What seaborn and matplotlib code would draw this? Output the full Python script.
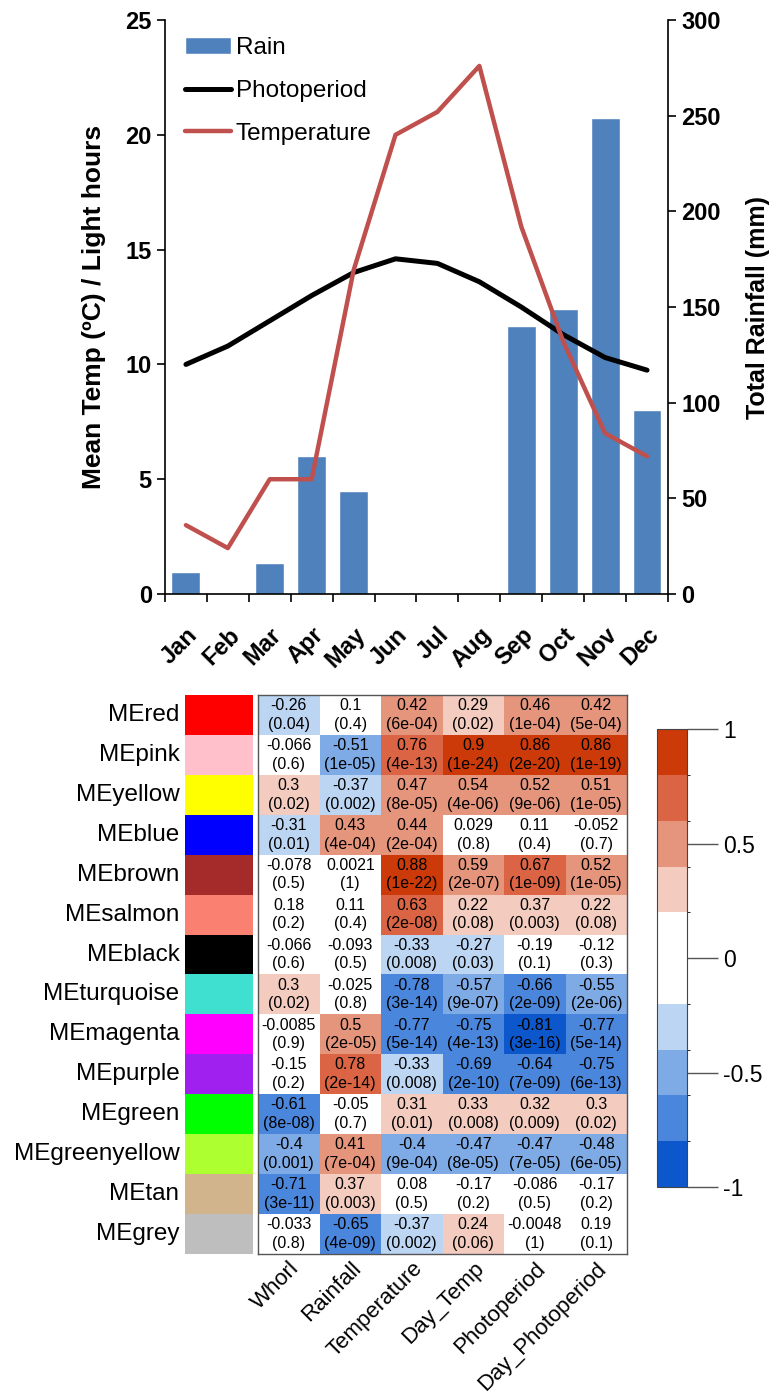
"""Climate profile + module-trait correlation heatmap"""
import numpy as np
import pandas as pd
import matplotlib
matplotlib.use("Agg")
import matplotlib.pyplot as plt
from matplotlib.colors import ListedColormap, BoundaryNorm
from matplotlib.ticker import FuncFormatter
import seaborn as sns

# --- climate data ---
months = ["Jan", "Feb", "Mar", "Apr", "May", "Jun",
          "Jul", "Aug", "Sep", "Oct", "Nov", "Dec"]
rain_mm = [11.4, 0.6, 16, 72, 54, 0, 0.3, 0.3, 140, 149, 249, 96]
photoperiod_h = [10.0, 10.8, 11.9, 13.0, 14.0, 14.6, 14.4, 13.6, 12.5, 11.3, 10.3, 9.75]
temperature_c = [3.0, 2.0, 5.0, 5.0, 14.1, 20.0, 21.0, 23.0, 16.0, 11.0, 7.0, 6.0]

# --- module / trait correlations ---
modules = ["MEred", "MEpink", "MEyellow", "MEblue", "MEbrown", "MEsalmon", "MEblack",
           "MEturquoise", "MEmagenta", "MEpurple", "MEgreen", "MEgreenyellow", "MEtan", "MEgrey"]
module_colors = ["#FF0000", "#FFC0CB", "#FFFF00", "#0000FF", "#A52A2A", "#FA8072", "#000000",
                 "#40E0D0", "#FF00FF", "#A020F0", "#00FF00", "#ADFF2F", "#D2B48C", "#BEBEBE"]
traits = ["Whorl", "Rainfall", "Temperature", "Day_Temp", "Photoperiod", "Day_Photoperiod"]

cor_whorl = [-0.26, -0.066, 0.3, -0.31, -0.078, 0.18, -0.066, 0.3, -0.0085, -0.15, -0.61, -0.4, -0.71, -0.033]
p_whorl = ["0.04", "0.6", "0.02", "0.01", "0.5", "0.2", "0.6", "0.02", "0.9", "0.2", "8e-08", "0.001", "3e-11", "0.8"]
cor_rain = [0.1, -0.51, -0.37, 0.43, 0.0021, 0.11, -0.093, -0.025, 0.5, 0.78, -0.05, 0.41, 0.37, -0.65]
p_rain = ["0.4", "1e-05", "0.002", "4e-04", "1", "0.4", "0.5", "0.8", "2e-05", "2e-14", "0.7", "7e-04", "0.003", "4e-09"]
cor_temp = [0.42, 0.76, 0.47, 0.44, 0.88, 0.63, -0.33, -0.78, -0.77, -0.33, 0.31, -0.4, 0.08, -0.37]
p_temp = ["6e-04", "4e-13", "8e-05", "2e-04", "1e-22", "2e-08", "0.008", "3e-14", "5e-14", "0.008", "0.01", "9e-04", "0.5", "0.002"]
cor_daytemp = [0.29, 0.9, 0.54, 0.029, 0.59, 0.22, -0.27, -0.57, -0.75, -0.69, 0.33, -0.47, -0.17, 0.24]
p_daytemp = ["0.02", "1e-24", "4e-06", "0.8", "2e-07", "0.08", "0.03", "9e-07", "4e-13", "2e-10", "0.008", "8e-05", "0.2", "0.06"]
cor_photo = [0.46, 0.86, 0.52, 0.11, 0.67, 0.37, -0.19, -0.66, -0.81, -0.64, 0.32, -0.47, -0.086, -0.0048]
p_photo = ["1e-04", "2e-20", "9e-06", "0.4", "1e-09", "0.003", "0.1", "2e-09", "3e-16", "7e-09", "0.009", "7e-05", "0.5", "1"]
cor_dayphoto = [0.42, 0.86, 0.51, -0.052, 0.52, 0.22, -0.12, -0.55, -0.77, -0.75, 0.3, -0.48, -0.17, 0.19]
p_dayphoto = ["5e-04", "1e-19", "1e-05", "0.7", "1e-05", "0.08", "0.3", "2e-06", "5e-14", "6e-13", "0.02", "6e-05", "0.2", "0.1"]

cmap_colors = ["#0D57CC", "#4A86DC", "#7EAAE6", "#BCD5F2", "#FFFFFF",
               "#FFFFFF", "#F3CCBF", "#E6957D", "#DA6444", "#CC3A0A"]
cbar_ticks = [-1, -0.5, 0, 0.5, 1]

sns.set_style("ticks")
plt.rcParams["font.family"] = ["Liberation Sans", "DejaVu Sans"]
plt.rcParams.update({"axes.edgecolor": "black", "text.color": "black",
                     "axes.labelcolor": "black", "xtick.color": "black",
                     "ytick.color": "black"})

fig = plt.figure(figsize=(7.8, 14), dpi=100)

# ---------------- top: climate chart ----------------
clim = pd.DataFrame({"Month": months, "Rain": rain_mm,
                     "Photoperiod": photoperiod_h, "Temperature": temperature_c})

ax = fig.add_axes([0.2115, 0.5757, 0.6449, 0.41])
ax2 = ax.twinx()
sns.barplot(data=clim, x="Month", y="Rain", ax=ax2, color="#4F81BD",
            saturation=1, width=0.69, label="Rain")
sns.lineplot(data=clim, x="Month", y="Photoperiod", ax=ax, color="black",
             lw=3.6, sort=False, label="Photoperiod")
sns.lineplot(data=clim, x="Month", y="Temperature", ax=ax, color="#C0504D",
             lw=3.2, sort=False, label="Temperature")

ax.set_zorder(ax2.get_zorder() + 1)
ax.patch.set_visible(False)

ax.set_ylim(0, 25)
ax.set_yticks(range(0, 26, 5))
ax2.set_ylim(0, 300)
ax2.set_yticks(range(0, 301, 50))
ax.set_xlim(-0.5, 11.5)
ax.set_xticks(np.arange(-0.5, 12, 1))
ax.set_xticklabels([])
ax.set_xticks(np.arange(12), minor=True)
ax.set_xticklabels(months, minor=True, rotation=45, ha="right",
                   rotation_mode="anchor", fontsize=17, fontweight="bold")
ax.tick_params(axis="x", which="minor", length=0, pad=21)
ax.tick_params(axis="x", which="major", length=6, width=1.2)
ax.tick_params(axis="y", length=6, width=1.2, labelsize=17)
ax2.tick_params(axis="y", length=6, width=1.2, labelsize=17)
for t in ax.get_yticklabels() + ax2.get_yticklabels():
    t.set_fontweight("bold")

for a in (ax, ax2):
    a.spines["top"].set_visible(False)
    a.set_xlabel("")
ax.spines["right"].set_visible(False)
ax2.spines["left"].set_visible(False)
ax2.spines["bottom"].set_visible(False)
for s in ("left", "bottom"):
    ax.spines[s].set_linewidth(1.2)
ax2.spines["right"].set_linewidth(1.2)

ax.set_ylabel("Mean Temp (ºC) / Light hours", fontsize=19, fontweight="bold", labelpad=14)
ax2.set_ylabel("Total Rainfall (mm)", fontsize=18, fontweight="bold", labelpad=18)

if ax2.get_legend() is not None:
    ax2.get_legend().remove()
h1, l1 = ax.get_legend_handles_labels()
h2, l2 = ax2.get_legend_handles_labels()
ax.legend(h2 + h1, l2 + l1, loc="upper left", frameon=False, fontsize=17.5,
          handlelength=1.9, handletextpad=0.2, labelspacing=0.85,
          borderaxespad=0.2, bbox_to_anchor=(0.01, 0.995))

# ---------------- bottom: module-trait heatmap ----------------
cor = pd.DataFrame(dict(zip(traits, [cor_whorl, cor_rain, cor_temp, cor_daytemp,
                                     cor_photo, cor_dayphoto])), index=modules)
pval = pd.DataFrame(dict(zip(traits, [p_whorl, p_rain, p_temp, p_daytemp,
                                      p_photo, p_dayphoto])), index=modules)
annot = cor.map(str) + "\n(" + pval + ")"

edges = np.linspace(-1, 1, 11)
edges[1:-1] += 1e-6
norm = BoundaryNorm(edges, 10)
cmap = ListedColormap(cmap_colors)

sax = fig.add_axes([0.2372, 0.1043, 0.0872, 0.3993])
hax = fig.add_axes([0.3308, 0.1043, 0.4731, 0.3993])
cax = fig.add_axes([0.8423, 0.1521, 0.0385, 0.3271])

sns.heatmap(pd.DataFrame({"c": np.arange(len(modules))}, index=modules), ax=sax,
            cmap=ListedColormap(module_colors), cbar=False,
            xticklabels=False, yticklabels=modules)
sax.set_yticklabels(modules, rotation=0, fontsize=17.5)
sax.tick_params(axis="y", length=0, pad=4)
sax.set_ylabel("")

sns.heatmap(cor, ax=hax, cmap=cmap, norm=norm, annot=annot.values, fmt="",
            annot_kws={"fontsize": 11.5, "color": "black", "linespacing": 1.3},
            cbar_ax=cax, cbar_kws={"ticks": cbar_ticks},
            yticklabels=False, xticklabels=traits)
hax.set_xticklabels(traits, rotation=45, ha="right", rotation_mode="anchor", fontsize=16)
hax.tick_params(axis="x", length=0, pad=3)
for s in hax.spines.values():
    s.set_visible(True)
    s.set_color("#555555")
    s.set_linewidth(1.0)

cb = hax.collections[0].colorbar
cb.outline.set_visible(True)
cb.outline.set_linewidth(0.8)
cb.outline.set_edgecolor("#444444")
cb.ax.yaxis.set_major_formatter(FuncFormatter(lambda v, p: f"{v:g}"))
cb.ax.tick_params(length=22, width=1, color="#555555", labelsize=16.5, pad=4)

fig.savefig("out.png", dpi=100)
